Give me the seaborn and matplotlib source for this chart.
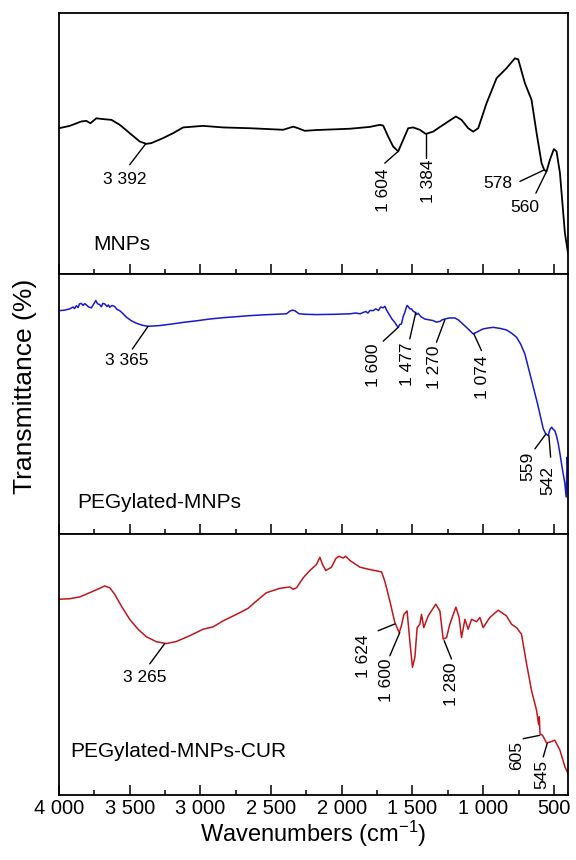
import numpy as np
import pandas as pd
import matplotlib
matplotlib.use('Agg')
import matplotlib.pyplot as plt
import seaborn as sns
from matplotlib.ticker import FixedLocator, FixedFormatter

# ---------------- data ----------------
mnps_wn = [4000, 3924, 3842, 3806, 3778, 3736, 3688, 3629, 3570, 3500,
           3429, 3382, 3346, 3264, 3193, 3122, 2981, 2839, 2651, 2415,
           2379, 2344, 2309, 2262, 2179, 1943, 1802, 1731, 1707, 1672,
           1637, 1601, 1566, 1530, 1495, 1448, 1405, 1354, 1283, 1193,
           1153, 1106, 1071, 1035, 976, 905, 835, 776, 752, 705,
           658, 622, 587, 568, 552, 528, 500, 481, 457, 422,
           400]
mnps_t = [55.8, 56.7, 58.4, 58.6, 57.7, 59.6, 59.3, 59.0, 57.1, 53.9,
          50.7, 49.8, 50.1, 52.0, 53.9, 56.1, 56.7, 56.1, 55.8, 55.2,
          55.8, 56.4, 55.8, 54.8, 55.1, 55.6, 56.3, 57.1, 56.8, 52.6,
          48.8, 46.9, 51.3, 55.8, 56.1, 55.2, 53.6, 54.5, 57.1, 60.3,
          59.0, 55.8, 54.5, 55.8, 65.4, 75.0, 78.8, 82.6, 82.2, 73.1,
          66.7, 53.9, 42.4, 39.8, 39.2, 43.7, 47.8, 46.9, 38.6, 15.6,
          7.9]

peg_wn = [4000, 3960, 3924, 3900, 3890, 3877, 3865, 3855, 3842, 3830,
          3818, 3806, 3790, 3771, 3755, 3740, 3728, 3712, 3700, 3690,
          3677, 3660, 3650, 3641, 3625, 3606, 3590, 3570, 3550, 3523,
          3490, 3453, 3410, 3370, 3287, 3200, 3122, 3030, 2934, 2840,
          2745, 2650, 2556, 2470, 2391, 2368, 2350, 2332, 2302, 2250,
          2179, 2060, 1943, 1900, 1870, 1849, 1830, 1815, 1800, 1778,
          1760, 1740, 1725, 1707, 1695, 1684, 1672, 1660, 1645, 1625,
          1612, 1601, 1590, 1578, 1566, 1554, 1545, 1538, 1530, 1518,
          1507, 1495, 1483, 1472, 1460, 1440, 1413, 1385, 1354, 1330,
          1306, 1290, 1271, 1240, 1200, 1177, 1150, 1118, 1090, 1071,
          1047, 1020, 1000, 960, 929, 880, 835, 800, 764, 735,
          705, 690, 670, 650, 634, 615, 599, 585, 575, 557,
          540, 528, 516, 505, 493, 480, 469, 457, 446, 434,
          422, 413, 406, 400]
peg_t = [85.8, 86.0, 86.5, 87.2, 86.6, 87.7, 87.0, 88.4, 88.6, 87.8,
         88.5, 88.0, 87.2, 86.9, 88.3, 89.7, 88.5, 88.1, 87.3, 88.6,
         88.4, 87.4, 88.0, 87.1, 87.8, 87.4, 86.3, 85.8, 84.8, 83.3,
         82.0, 81.0, 80.2, 79.8, 80.1, 80.7, 81.3, 81.9, 82.6, 83.1,
         83.5, 83.9, 84.2, 84.4, 84.6, 85.6, 86.0, 85.8, 84.6, 84.4,
         84.3, 84.4, 84.6, 84.9, 84.6, 85.1, 85.5, 84.9, 85.9, 85.8,
         86.5, 85.9, 87.2, 86.9, 87.5, 86.1, 85.0, 83.9, 82.6, 81.3,
         80.2, 79.4, 80.5, 80.7, 83.5, 85.2, 86.8, 87.8, 87.4, 86.5,
         86.5, 85.6, 85.2, 84.3, 84.8, 83.5, 82.6, 82.3, 82.0, 81.4,
         81.7, 82.3, 82.6, 83.0, 83.0, 82.3, 81.0, 79.4, 77.9, 76.9,
         77.5, 78.3, 78.8, 79.2, 79.4, 79.0, 78.4, 77.2, 75.6, 73.0,
         69.2, 66.0, 61.6, 57.5, 53.9, 50.0, 46.2, 43.0, 40.5, 38.5,
         37.9, 40.2, 41.1, 40.3, 39.8, 37.5, 34.8, 31.0, 27.1, 23.2,
         19.4, 14.3, 29.6, 24.5]

cur_wn = [4000, 3924, 3853, 3783, 3712, 3677, 3641, 3606, 3559, 3500,
          3441, 3382, 3311, 3240, 3170, 3075, 2981, 2910, 2839, 2745,
          2663, 2604, 2533, 2438, 2368, 2344, 2320, 2273, 2226, 2179,
          2155, 2136, 2113, 2073, 2042, 2019, 1990, 1972, 1943, 1872,
          1802, 1719, 1696, 1660, 1625, 1594, 1578, 1561, 1538, 1519,
          1500, 1483, 1467, 1448, 1436, 1420, 1389, 1335, 1306, 1283,
          1259, 1236, 1193, 1170, 1153, 1129, 1106, 1082, 1047, 1023,
          1000, 976, 953, 894, 835, 799, 764, 729, 693, 658,
          622, 608, 603, 598, 580, 552, 528, 493, 457, 422,
          400]
cur_t = [75.1, 75.3, 76.0, 77.6, 79.3, 80.2, 79.5, 77.0, 72.5, 67.4,
         63.6, 60.7, 58.8, 58.1, 58.9, 61.1, 63.6, 64.5, 66.8, 69.3,
         71.6, 74.4, 77.6, 79.3, 79.8, 78.9, 79.5, 83.3, 86.1, 88.4,
         91.2, 88.4, 86.1, 87.4, 90.7, 91.6, 90.9, 91.6, 90.0, 87.4,
         86.5, 85.6, 82.1, 74.4, 66.2, 62.3, 64.9, 69.3, 70.6, 59.2,
         49.0, 52.8, 64.2, 65.5, 69.3, 64.2, 68.7, 73.2, 70.6, 59.8,
         60.4, 65.5, 72.1, 68.1, 60.4, 67.4, 63.6, 67.4, 66.5, 68.1,
         64.2, 66.2, 68.1, 70.9, 68.7, 65.5, 64.2, 61.7, 50.3, 40.1,
         32.4, 27.0, 30.0, 23.5, 22.9, 20.0, 20.3, 21.0, 17.2, 10.8,
         8.3]

panel_names = ['MNPs', 'PEGylated-MNPs', 'PEGylated-MNPs-CUR']
tick_values = [4000, 3500, 3000, 2500, 2000, 1500, 1000, 500]
tick_labels = ['4 000', '3 500', '3 000', '2 500', '2 000', '1 500', '1 000', '500']
minor_values = [3750, 3250, 2750, 2250, 1750, 1250, 750]

# peak labels: (text, peak wn, peak T)
mnps_peaks = [('3 392', 3387, 49.8), ('1 604', 1601, 46.9), ('1 384', 1405, 53.6),
              ('578', 568, 39.8), ('560', 552, 39.2)]
peg_peaks = [('3 365', 3370, 79.8), ('1 600', 1601, 79.4), ('1 477', 1476, 85.2),
             ('1 270', 1271, 82.3), ('1 074', 1066, 76.9), ('559', 556, 38.5),
             ('542', 535, 37.9)]
cur_peaks = [('3 265', 3252, 58.1), ('1 624', 1625, 65.6), ('1 600', 1590, 62.3),
             ('1 280', 1276, 59.2), ('605', 599, 22.9), ('545', 547, 19.8)]

# ---------------- layout of the labels (leader end, text anchor, rotation) ----------------
mnps_layout = [((3500, 41.8), (3535, 36.0), 0), ((1696, 42.4), (1707, 40.5), 90),
               ((1405, 44.3), (1389, 43.7), 90), ((740, 35.4), (900, 34.7), 0),
               ((627, 30.9), (705, 25.2), 0)]
peg_layout = [((3481, 71.1), (3519, 66.7), 0), ((1707, 74.1), (1778, 73.1), 90),
              ((1519, 75.0), (1538, 73.7), 90), ((1330, 73.7), (1342, 72.4), 90),
              ((1012, 70.5), (1004, 68.6), 90), ((634, 32.8), (686, 31.6), 90),
              ((523, 29.6), (540, 26.4), 90)]
cur_layout = [((3358, 50.3), (3394, 44.9), 0), ((1743, 63.0), (1849, 61.7), 90),
              ((1660, 53.4), (1684, 52.2), 90), ((1224, 52.2), (1224, 50.9), 90),
              ((717, 21.6), (764, 20.7), 90), ((575, 14.6), (582, 13.4), 90)]
name_pos = [(3759, 11.1), (3872, 12.1), (3920, 16.5)]

colors = ['#000000', '#1818cc', '#c0161c']

# ---------------- plotting ----------------
sns.set_style('ticks')
plt.rcParams['font.family'] = ['Liberation Sans', 'DejaVu Sans']
plt.rcParams['mathtext.default'] = 'regular'
plt.rcParams['text.color'] = 'black'
plt.rcParams['axes.labelcolor'] = 'black'
plt.rcParams['xtick.color'] = 'black'
plt.rcParams['ytick.color'] = 'black'
plt.rcParams['axes.edgecolor'] = 'black'

fig, axes = plt.subplots(3, 1, figsize=(5.76, 8.6), dpi=100, sharex=True)
fig.subplots_adjust(left=59 / 576, right=568 / 576, top=1 - 13 / 860,
                    bottom=1 - 795 / 860, hspace=0)

series = [(mnps_wn, mnps_t, mnps_peaks, mnps_layout),
          (peg_wn, peg_t, peg_peaks, peg_layout),
          (cur_wn, cur_t, cur_peaks, cur_layout)]
line_widths = [1.3, 1.1, 1.1]

for i, (ax, (wn, t, peaks, layout)) in enumerate(zip(axes, series)):
    df = pd.DataFrame({'wn': wn, 't': t})
    sns.lineplot(data=df, x='wn', y='t', ax=ax, color=colors[i], lw=line_widths[i],
                 sort=False, estimator=None)
    ax.set_xlim(4000, 400)
    ax.set_ylim(0, 100)
    ax.set_yticks([])
    ax.set_ylabel('')
    ax.set_xlabel('')
    ax.xaxis.set_major_locator(FixedLocator(tick_values))
    ax.xaxis.set_minor_locator(FixedLocator(minor_values))
    ax.tick_params(axis='x', which='major', direction='in', length=7, width=1.1,
                   labelsize=14.5, pad=3, top=False, colors='black')
    ax.tick_params(axis='x', which='minor', direction='in', length=3.5, width=1.1,
                   top=False, colors='black')
    for s in ax.spines.values():
        s.set_visible(True)
        s.set_linewidth(1.3)
        s.set_color('black')
    nx, ny = name_pos[i]
    ax.text(nx, ny, panel_names[i], fontsize=15, ha='left', va='center', color='black')
    for (lab, pw, pt), ((ew, et), (tw, tt), rot) in zip(peaks, layout):
        ax.plot([pw, ew], [pt, et], color='black', lw=1.0)
        ax.text(tw, tt, lab, rotation=rot, ha='center',
                va='top' if rot else 'center', fontsize=12.5, color='black')

axes[-1].xaxis.set_major_formatter(FixedFormatter(tick_labels))

fig.text(25 / 576, 1 - 386 / 860, 'Transmittance (%)', rotation=90,
         ha='center', va='center', fontsize=19, color='black')
fig.text(313.5 / 576, 1 - 834 / 860, 'Wavenumbers (cm$^{-1}$)',
         ha='center', va='center', fontsize=17, color='black')

fig.savefig('out.png', dpi=100)
